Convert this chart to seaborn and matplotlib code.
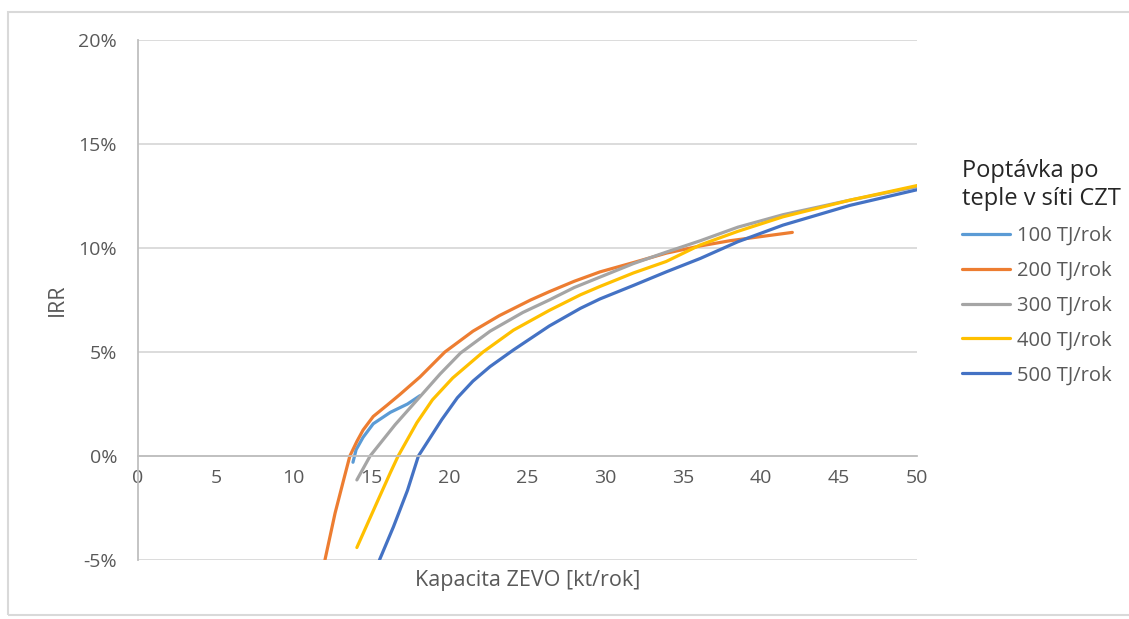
import pandas as pd
import numpy as np
import seaborn as sns
import matplotlib.pyplot as plt
from matplotlib.patches import Rectangle
from matplotlib.ticker import FuncFormatter

# values (capacity kt/rok, IRR %)
x_100 = [13.8, 14.0, 14.45, 15.1, 16.2, 17.3, 18.1]
y_100 = [-0.3, 0.3, 0.9, 1.55, 2.1, 2.5, 2.9]

x_200 = [12.0, 12.65, 13.2, 13.6, 14.05, 14.45, 15.1, 16.0, 16.8, 18.1, 19.7, 21.5, 23.2,
         25.2, 26.4, 28.0, 29.65, 31.8, 33.9, 36.1, 38.0, 40.0, 42.0]
y_200 = [-5.0, -2.75, -1.15, 0.0, 0.7, 1.25, 1.9, 2.45, 2.95, 3.8, 5.0, 6.0, 6.75,
         7.5, 7.9, 8.4, 8.85, 9.3, 9.75, 10.1, 10.35, 10.55, 10.75]

x_300 = [14.05, 14.9, 16.5, 18.1, 19.4, 20.7, 22.6, 24.7, 26.4, 28.0, 29.65, 31.8, 33.9,
         36.1, 38.5, 41.4, 45.7, 50.0]
y_300 = [-1.15, 0.0, 1.5, 2.85, 3.95, 4.95, 6.0, 6.9, 7.5, 8.1, 8.6, 9.25, 9.8,
         10.35, 11.0, 11.6, 12.3, 12.95]

x_400 = [14.05, 15.3, 16.2, 16.7, 17.9, 18.9, 20.2, 22.15, 24.1, 26.4, 28.4, 29.65, 31.8,
         33.9, 36.1, 38.5, 41.4, 45.7, 50.0]
y_400 = [-4.4, -2.3, -0.8, 0.0, 1.6, 2.7, 3.75, 5.0, 6.05, 7.0, 7.75, 8.15, 8.8,
         9.35, 10.15, 10.8, 11.5, 12.3, 13.0]

x_500 = [15.5, 16.4, 17.3, 18.0, 19.5, 20.5, 21.5, 22.6, 24.1, 26.4, 28.4, 29.65, 31.8,
         33.9, 36.1, 38.5, 41.4, 45.7, 50.0]
y_500 = [-5.0, -3.4, -1.65, 0.0, 1.75, 2.8, 3.6, 4.3, 5.1, 6.25, 7.1, 7.55, 8.2,
         8.85, 9.5, 10.3, 11.1, 12.05, 12.8]

series = ['100 TJ/rok', '200 TJ/rok', '300 TJ/rok', '400 TJ/rok', '500 TJ/rok']
colors = ['#5B9BD5', '#ED7D31', '#A5A5A5', '#FFC000', '#4472C4']

frames = []
for name, xs, ys in zip(series,
                        [x_100, x_200, x_300, x_400, x_500],
                        [y_100, y_200, y_300, y_400, y_500]):
    frames.append(pd.DataFrame({'kap': xs, 'irr': ys, 'serie': name}))
df = pd.concat(frames, ignore_index=True)

sns.set_style('white')
plt.rcParams['font.family'] = ['Open Sans', 'DejaVu Sans']
txt = '#595959'

fig = plt.figure(figsize=(11.29, 6.19), dpi=100)
ax = fig.add_axes([0.1222, 0.0953, 0.69, 0.8401])

sns.lineplot(data=df, x='kap', y='irr', hue='serie', palette=colors,
             sort=False, estimator=None, linewidth=2.3, ax=ax, legend=True)

ax.set_xlim(0, 50)
ax.set_ylim(-5, 20)
ax.set_xticks(np.arange(0, 51, 5))
ax.set_yticks(np.arange(-5, 21, 5))
ax.yaxis.set_major_formatter(FuncFormatter(lambda v, p: '{:d}%'.format(int(round(v)))))
ax.grid(axis='y', color='#D9D9D9', linewidth=1.3)
ax.set_axisbelow(True)

for s in ['top', 'right']:
    ax.spines[s].set_visible(False)
ax.spines['bottom'].set_position(('data', 0))
ax.spines['bottom'].set_color('#BFBFBF')
ax.spines['bottom'].set_linewidth(1.3)
ax.spines['left'].set_color('#BFBFBF')
ax.spines['left'].set_linewidth(1.3)
ax.tick_params(axis='both', length=0, labelsize=14, labelcolor=txt)
ax.tick_params(axis='x', pad=9)
ax.tick_params(axis='y', pad=15)

ax.set_xlabel('Kapacita ZEVO [kt/rok]', fontsize=15.5, color=txt, va='center')
ax.xaxis.set_label_coords(0.5, -0.04)
ax.set_ylabel('IRR', fontsize=15.5, color=txt, va='center')
ax.yaxis.set_label_coords(-0.104, 0.5)

handles, labels = ax.get_legend_handles_labels()
ax.get_legend().remove()
leg = fig.legend(handles, labels, title='Poptávka po\nteple v síti CZT',
                 loc='upper left', bbox_to_anchor=(0.836, 0.772),
                 frameon=False, fontsize=14.5, title_fontsize=17,
                 handlelength=2.4, handletextpad=0.35, labelspacing=0.74)
leg._legend_box.align = 'left'
for t in leg.get_texts():
    t.set_color(txt)

fig.patches.append(Rectangle((8 / 1129, 4 / 619), 1.2, 1 - 16 / 619,
                             transform=fig.transFigure, fill=False,
                             edgecolor='#D9D9D9', linewidth=1.5))

fig.savefig('out.png', dpi=100)
